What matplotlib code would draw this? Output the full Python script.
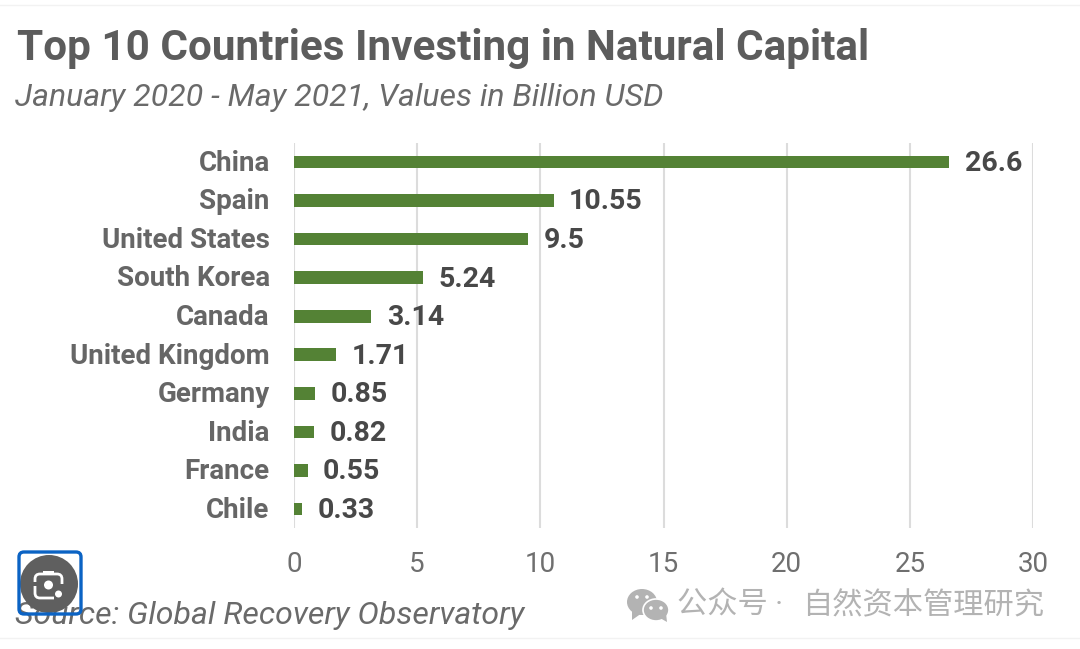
import matplotlib
matplotlib.use("Agg")
import matplotlib.pyplot as plt
from matplotlib.patches import Circle, Ellipse, FancyBboxPatch, Polygon, Rectangle
from matplotlib.transforms import ScaledTranslation

plt.rcParams['font.family'] = ['Roboto', 'Noto Sans CJK SC', 'DejaVu Sans']

countries = ["China", "Spain", "United States", "South Korea", "Canada",
             "United Kingdom", "Germany", "India", "France", "Chile"]
values = [26.6, 10.55, 9.5, 5.24, 3.14, 1.71, 0.85, 0.82, 0.55, 0.33]
value_labels = ["26.6", "10.55", "9.5", "5.24", "3.14", "1.71", "0.85", "0.82", "0.55", "0.33"]
x_ticks = [0, 5, 10, 15, 20, 25, 30]

W, H = 1080, 649
fig = plt.figure(figsize=(W / 100, H / 100), dpi=100, facecolor="white")

# main chart, placed by pixels
ax = fig.add_axes([294 / W, 1 - 528 / H, (1033 - 294) / W, (528 - 143) / H])
ax.barh(range(len(values)), values, height=0.33, color="#548235", zorder=3)
ax.set_xlim(0, 30)
ax.set_ylim(9.49, -0.49)
ax.set_xticks(x_ticks)
ax.set_yticks(range(len(countries)))
ax.set_yticklabels(countries, fontsize=20, fontweight="bold", color="#666666")
ax.tick_params(axis="y", length=0, pad=17.5)
ax.tick_params(axis="x", length=0, pad=16.5, labelsize=20, labelcolor="#6f6f6f")
ax.grid(axis="x", color="#dcdcdc", lw=1.5, zorder=0)
for s in ax.spines.values():
    s.set_visible(False)
# labels sit a touch above the bar centres in the reference
up = ScaledTranslation(0, 1.2 / 72, fig.dpi_scale_trans)
for lab in ax.get_yticklabels():
    lab.set_transform(lab.get_transform() + up)
for i, v in enumerate(values):
    ax.annotate(value_labels[i], (v, i), xytext=(11, -1), textcoords="offset points",
                va="center", ha="left", fontsize=20.5, fontweight="bold", color="#484848")

# overlay in pixel coordinates for titles and screenshot furniture
ov = fig.add_axes([0, 0, 1, 1], zorder=5)
ov.set_xlim(0, W)
ov.set_ylim(H, 0)
ov.axis("off")
ov.patch.set_alpha(0)

ov.text(17, 48.5, "Top 10 Countries Investing in Natural Capital", fontsize=30.45,
        fontweight="bold", color="#5c5c5c", va="center")
ov.text(15, 98, "January 2020 - May 2021, Values in Billion USD", fontsize=23.05,
        style="italic", color="#6a6a6a", va="center")
ov.text(15, 616, "Source: Global Recovery Observatory", fontsize=23.05,
        style="italic", color="#6a6a6a", va="center")

# thin page edges
ov.plot([0, W], [5, 5], color="#f2f2f2", lw=1)
ov.plot([0, W], [638, 638], color="#f2f2f2", lw=1)

# lens button
ov.add_patch(FancyBboxPatch((19, 552), 62, 62, boxstyle="round,pad=0,rounding_size=5",
                            fc="none", ec="#0b63c4", lw=2.4, zorder=7))
ov.add_patch(Circle((49, 584), 29, fc="#5f5f5f", ec="none", zorder=6))
ov.add_patch(FancyBboxPatch((35, 574), 27, 24, boxstyle="round,pad=0,rounding_size=5",
                            fc="none", ec="white", lw=2, zorder=8))
ov.add_patch(Rectangle((54, 584), 10, 16, fc="#5f5f5f", ec="none", zorder=8))
ov.add_patch(Rectangle((33, 582), 5, 4, fc="#5f5f5f", ec="none", zorder=8))
ov.add_patch(Rectangle((43, 571), 11, 3.5, fc="white", ec="none", zorder=8))
ov.add_patch(Circle((48.5, 585), 4.5, fc="white", ec="none", zorder=9))
ov.add_patch(Circle((58.5, 594), 3.5, fc="white", ec="none", zorder=9))

# watermark
gray = "#b3b3b3"
ov.add_patch(Ellipse((642, 602), 30, 26, fc=gray, ec="none"))
ov.add_patch(Polygon([[632, 610], [632, 620], [642, 613]], fc=gray, ec="none"))
ov.add_patch(Ellipse((656, 610), 26, 22, fc=gray, ec="white", lw=1.2))
ov.add_patch(Polygon([[660, 618], [667, 622], [666, 613]], fc=gray, ec="none"))
for cx, cy in [(637, 597), (647, 597), (651, 608), (661, 608)]:
    ov.add_patch(Circle((cx, cy), 1.8, fc="white", ec="none"))
ov.text(677, 606, "公众号 ·", fontsize=21.8, color=gray, va="center")
ov.text(802, 606, "自然资本管理研究", fontsize=21.8, color=gray, va="center")

fig.savefig("out.png", dpi=100)
